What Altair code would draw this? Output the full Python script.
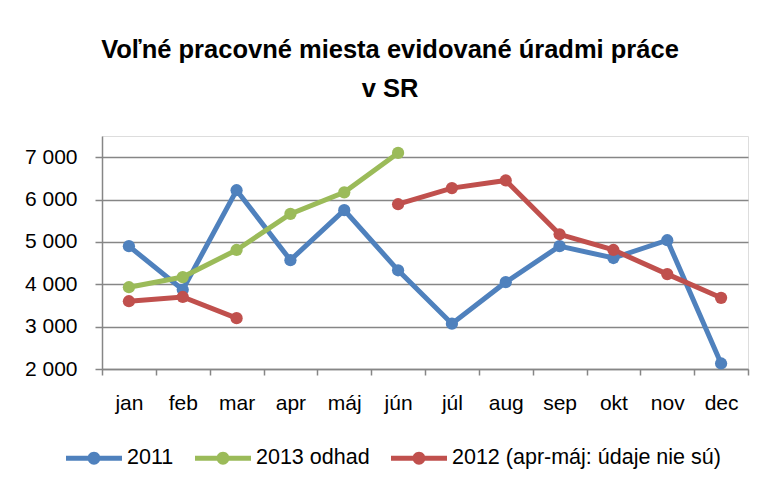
import altair as alt
import pandas as pd

months = ["jan", "feb", "mar", "apr", "máj", "jún", "júl", "aug", "sep", "okt", "nov", "dec"]
series_names = ["2011", "2013 odhad", "2012 (apr-máj: údaje nie sú)"]
v2011 = [4900, 3870, 6220, 4570, 5750, 4330, 3070, 4050, 4900, 4620, 5040, 2130]
v2013 = [3930, 4170, 4810, 5660, 6170, 7100, None, None, None, None, None, None]
v2012 = [3600, 3700, 3200, None, None, 5890, 6270, 6450, 5180, 4810, 4240, 3680]
colors = ["#4F81BD", "#9BBB59", "#C0504D"]
y_ticks = [2000, 3000, 4000, 5000, 6000, 7000]

rows = []
for name, vals in zip(series_names, [v2011, v2013, v2012]):
    seg = 0
    for i, (m, v) in enumerate(zip(months, vals)):
        if v is None:
            seg += 1
            continue
        rows.append({"mesiac": m, "hodnota": v, "rad": name, "seg": f"{name}-{seg}"})
df = pd.DataFrame(rows)

FONT = "Liberation Sans"

x = alt.X("mesiac:N", sort=months, bandPosition=0.5,
          scale=alt.Scale(type="band", domain=months, paddingInner=0, paddingOuter=0),
          axis=alt.Axis(title=None, tickBand="extent", tickSize=6, labelPadding=17,
                        labelFontSize=21, labelFont=FONT, labelColor="#000000",
                        domainColor="#868686", tickColor="#868686", domainWidth=1.5,
                        tickWidth=1.5, grid=False, labelAngle=0))
y = alt.Y("hodnota:Q", scale=alt.Scale(domain=[2000, 7500], nice=False, zero=False),
          axis=alt.Axis(title=None, values=y_ticks, tickSize=7, labelPadding=18,
                        labelFontSize=21, labelFont=FONT, labelColor="#000000",
                        labelExpr="replace(format(datum.value, ','), ',', ' ')",
                        grid=True, gridColor="#868686", gridWidth=1.5,
                        domainColor="#868686", tickColor="#868686", domainWidth=1.5,
                        tickWidth=1.5))
color = alt.Color("rad:N", sort=series_names,
                  scale=alt.Scale(domain=series_names, range=colors),
                  legend=alt.Legend(title=None, orient="none", direction="horizontal",
                                    legendX=-36, legendY=294,
                                    symbolType="M -1 -0.09 L 1 -0.09 L 1 0.09 L -1 0.09 Z M 0.23 0 A 0.23 0.23 0 1 1 -0.23 0 A 0.23 0.23 0 1 1 0.23 0 Z",
                                    symbolSize=3136, symbolStrokeWidth=0, symbolOpacity=1,
                                    labelFont=FONT, labelFontSize=21.5, labelColor="#000000",
                                    labelOffset=5, columnPadding=21, labelLimit=400))

base = alt.Chart(df)
lines = base.mark_line(strokeWidth=5).encode(x=x, y=y, color=color, detail="seg:N")
points = base.mark_point(filled=True, size=150, opacity=1).encode(x=x, y=y, color=color)

chart = alt.layer(lines, points).properties(
    width=646, height=233,
    title=alt.TitleParams(
        ["Voľné pracovné miesta evidované úradmi práce", "v SR"],
        anchor="middle", font=FONT, fontSize=25.5, fontWeight="bold", color="#000000",
        lineHeight=39, baseline="bottom", offset=9, dx=-35),
    autosize=alt.AutoSizeParams(type="none"),
    padding={"left": 94, "top": 128, "right": 17, "bottom": 110},
).configure_view(stroke=None).configure(background="white")

chart.save("out.html", embed_options={"renderer": "svg", "actions": False})
